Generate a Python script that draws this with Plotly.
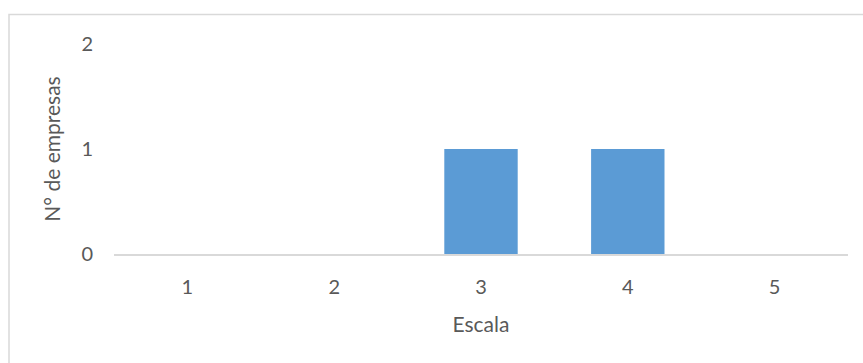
import plotly.graph_objects as go

categories = ["1", "2", "3", "4", "5"]
values = [0, 0, 1, 1, 0]
y_ticks = [0, 1, 2]

W, H = 863, 363
ml, mr, mt, mb = 114, 15, 44, 109
pw = W - ml - mr
ph = H - mt - mb

text_color = "#595959"
font = "Lato, Carlito, Calibri, sans-serif"
fs = 20
fst = 21

fig = go.Figure()
fig.add_trace(go.Bar(
    x=categories, y=values,
    marker=dict(color="#5B9BD5", line=dict(width=0)),
))

def px_to_paper_x(px):
    return (px - ml) / pw

def px_to_paper_y(py):
    return (H - mb - py) / ph

fig.add_shape(type="rect", xref="paper", yref="paper",
              x0=px_to_paper_x(9), x1=px_to_paper_x(880),
              y0=px_to_paper_y(400), y1=px_to_paper_y(14.5),
              line=dict(color="#D9D9D9", width=1.5), fillcolor="rgba(0,0,0,0)",
              layer="below")

fig.update_layout(
    width=W, height=H,
    margin=dict(l=ml, r=mr, t=mt, b=mb),
    paper_bgcolor="white", plot_bgcolor="white",
    bargap=0.5, showlegend=False,
    font=dict(family=font, color=text_color, size=fs),
    xaxis=dict(
        type="category", showgrid=False, showline=True,
        linecolor="#D9D9D9", linewidth=2, ticks="",
        tickfont=dict(size=fs, color=text_color), ticklabelstandoff=14,
        title=dict(text="Escala", font=dict(size=fst, color=text_color), standoff=20),
    ),
    yaxis=dict(
        range=[0, 2], tickvals=y_ticks, showgrid=False, zeroline=False,
        showline=False, ticks="", ticklen=0,
        tickfont=dict(size=fs, color=text_color), ticklabelstandoff=20,
        title=dict(text="N° de empresas", font=dict(size=fst, color=text_color), standoff=15),
    ),
)

fig.write_html("out.html", config={"displayModeBar": False},
               post_script="document.body.style.margin='0';")
